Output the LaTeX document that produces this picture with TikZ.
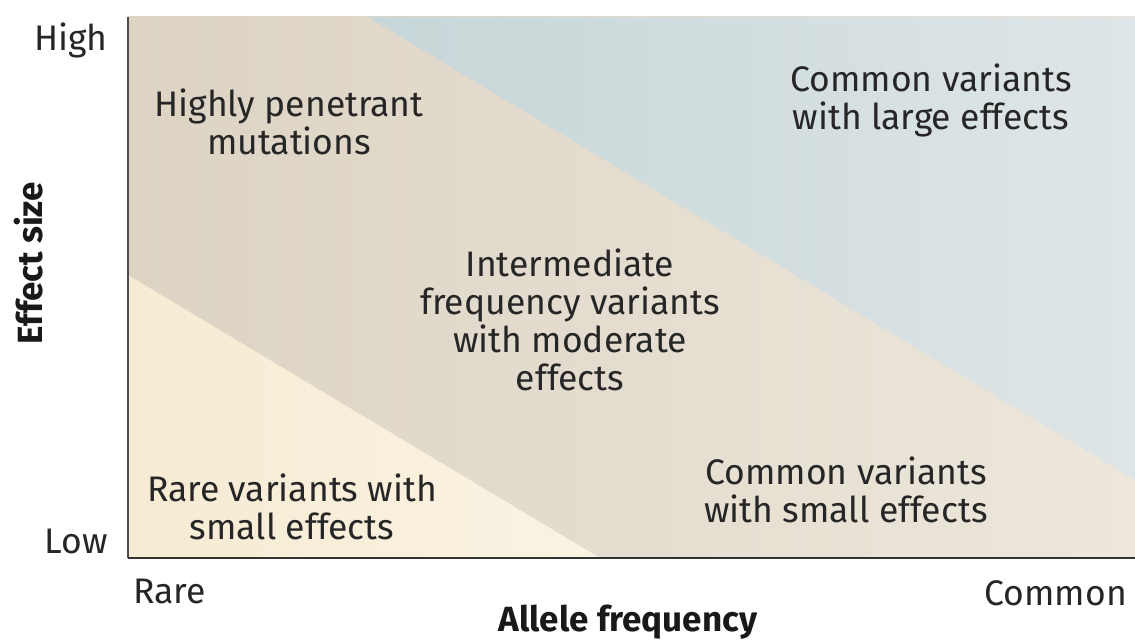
\documentclass[tikz,border=0pt]{standalone}
\usepackage{fontspec}
\setmainfont{Fira Sans}
\begin{document}
\begin{tikzpicture}[x=1pt,y=-1pt,
  lbl/.style={font=\fontsize{35.5}{38}\selectfont, text=black!85, align=center, inner sep=0pt},
  tick/.style={font=\fontsize{35.5}{38}\selectfont, text=black!85, inner sep=0pt},
  axlbl/.style={font=\fontsize{35}{38}\selectfont\bfseries, text=black!90, inner sep=0pt}]
\useasboundingbox (0,0) rectangle (1135,642);
\fill[white] (0,0) rectangle (1135,642);
% regions
\shade[left color={rgb,255:red,220;green,211;blue,195}, right color={rgb,255:red,237;green,231;blue,220}]
  (128,17) rectangle (1135,558);
\shade[left color={rgb,255:red,199;green,214;blue,216}, right color={rgb,255:red,222;green,229;blue,231}]
  (368,17) -- (1135,17) -- (1135,480) -- cycle;
\shade[left color={rgb,255:red,246;green,235;blue,211}, right color={rgb,255:red,250;green,243;blue,227}]
  (128,275) -- (600,558) -- (128,558) -- cycle;
% axes
\coordinate (o) at (128,558);
\coordinate (ytop) at (128,17);
\coordinate (xend) at (1135,558);
\draw[line width=1.6pt, black!70] (o) -- (ytop);
\draw[line width=2pt, black!80] (o) -- (xend);
% tick labels
\node[tick, anchor=east] (high) at (108,40) {High};
\node[tick, anchor=east] (low) at (108,541) {Low};
\node[tick, anchor=west] (rare) at (133,591) {Rare};
\node[tick, anchor=east] (common) at (1127,593) {Common};
% axis labels
\node[axlbl] (xl) at (628,622) {Allele frequency};
\node[axlbl, rotate=90] (yl) at (29,263) {Effect size};
% region labels
\node[lbl] (hp) at (289,122) {Highly penetrant\\mutations};
\node[lbl] (im) at (570,320) {Intermediate\\frequency variants\\with moderate\\effects};
\node[lbl] (cl) at (931,100) {Common variants\\with large effects};
\node[lbl] (rs) at (292,507) {Rare variants with\\small effects};
\node[lbl] (cs) at (846,490) {Common variants\\with small effects};
\end{tikzpicture}
\end{document}
